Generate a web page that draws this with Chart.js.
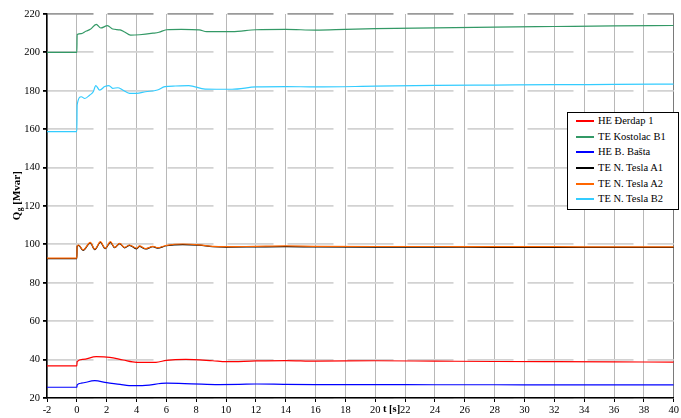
<!DOCTYPE html>
<html><head><meta charset="utf-8">
<script src="https://cdn.jsdelivr.net/npm/chart.js@4.4.1/dist/chart.umd.min.js"></script>
<style>
html,body{margin:0;padding:0;background:#fff;}
#wrap{position:relative;width:681px;height:418px;}
#legend{position:absolute;left:567px;top:112px;width:110px;height:96px;border:1px solid #000;background:#fff;font-family:"Liberation Serif","Times New Roman",serif;font-size:10.5px;color:#000;box-sizing:content-box;}
.li{height:15.7px;line-height:15.7px;white-space:nowrap;position:relative;}
.sw{position:absolute;left:8px;top:7px;width:18px;height:2px;}
.tx{position:absolute;left:30px;top:0;}
</style></head>
<body><div id="wrap"><canvas id="c" width="681" height="418"></canvas><div id="legend"></div></div>
<script>
const seriesNames = ["HE Đerdap 1","TE Kostolac B1","HE B. Bašta","TE N. Tesla A1","TE N. Tesla A2","TE N. Tesla B2"];
const seriesColors = ["#ff0000","#339966","#0000ff","#000000","#ff6600","#33ccff"];
const xTicks = [-2,0,2,4,6,8,10,12,14,16,18,20,22,24,26,28,30,32,34,36,38,40];
const yTicks = [20,40,60,80,100,120,140,160,180,200,220];

const tR = [-2,0,0.02,0.4,1.3,2.2,3.1,4,5.3,6,7.3,9.1,10,12,14,16,20,24,28,32,36,40];
const vR = [36.7,36.7,38.9,40.1,41.5,41.2,39.8,38.6,38.6,39.6,40.1,39.4,38.9,39.3,39.5,39.2,39.4,39.2,39,38.9,38.8,38.7];

const tG = [-2,0,0.02,0.3,0.6,0.9,1.3,1.6,2.05,2.4,2.9,3.2,3.6,4.2,5.1,5.5,6,7,8.2,8.7,10,10.4,12,14,16,18,20,24,28,32,36,40];
const vG = [200,200,209.3,209.8,211,212,214.6,212.7,213.9,212.2,211.7,210.6,209,209.2,210,210.5,211.8,212,211.7,210.8,210.8,210.8,211.8,212,211.6,212,212.4,212.8,213.2,213.5,213.8,214];

const tB = [-2,0,0.02,0.3,1.2,2,2.9,3.5,4.6,6,7.7,9.5,10.9,12,14,16,20,24,28,32,36,40];
const vB = [25.6,25.6,26.8,27.7,29,28,27.1,26.4,26.6,27.7,27.4,27,27.1,27.3,27.1,27,27,26.9,26.9,26.8,26.8,26.8];

const tA = [-2,0,0.02,0.12,0.42,0.9,1.2,1.58,1.9,2.25,2.53,2.87,3.2,3.53,4,4.2,4.6,5.1,5.4,6,7.1,8.2,9.1,10,12,14,16,20,24,28,32,36,40];
const vA1 = [92.6,92.6,98.9,99.5,96.9,100.8,97.3,101.1,97.8,101.1,98.3,100.4,98.2,99.5,97.7,99,97.6,98.8,98.1,99.3,99.9,99.6,98.8,98.6,98.7,98.8,98.7,98.6,98.6,98.5,98.5,98.4,98.4];
const vA2 = [92.8,92.8,99.2,99.7,97.1,101.1,97.5,101.4,98,101.4,98.5,100.6,98.5,99.7,98,99.2,97.8,99,98.3,99.5,100.2,99.8,99,98.8,99,99.2,99,98.9,98.9,98.8,98.8,98.7,98.7];

const tB2 = [-2,0,0.02,0.3,0.53,0.87,1.1,1.27,1.53,1.87,2.15,2.4,2.75,3.07,3.53,4,4.6,5.4,5.9,6.6,7.5,8.6,10.4,12,14,16,20,24,28,32,36,40];
const vB2 = [158.7,158.7,172.6,176.9,176,177.8,179.5,182.7,180.4,182.2,182.7,181.3,181.6,180.4,178.7,178.7,179.5,180.4,182.2,182.5,182.7,180.9,180.8,182,182.2,182,182.4,182.8,183,183.2,183.3,183.5];

const times = [tR,tG,tB,tA,tA,tB2];
const vals = [vR,vG,vB,vA1,vA2,vB2];
const orders = [0,0,0,0,-1,0];

const datasets = seriesNames.map((n,i)=>({
  label:n,
  data: times[i].map((t,j)=>({x:t,y:vals[i][j]})),
  borderColor: seriesColors[i],
  backgroundColor: seriesColors[i],
  borderWidth: 1.2,
  pointRadius: 0,
  cubicInterpolationMode: 'monotone',
  fill:false,
  order: orders[i]
}));

const FONT = '"Liberation Serif","Times New Roman",serif';

const titles = {
  id:'titles',
  afterDraw(chart){
    const ctx = chart.ctx;
    ctx.save();
    ctx.fillStyle = '#000';
    ctx.translate(17, 196);
    ctx.rotate(-Math.PI/2);
    ctx.textBaseline = 'middle';
    ctx.font = 'bold 11px ' + FONT;
    const w1 = ctx.measureText('Q').width;
    ctx.font = 'bold 7.5px ' + FONT;
    const w2 = ctx.measureText('g').width;
    ctx.font = 'bold 11px ' + FONT;
    const w3 = ctx.measureText(' [Mvar]').width;
    let x0 = -(w1+w2+w3)/2;
    ctx.textAlign = 'left';
    ctx.fillText('Q', x0, 0);
    ctx.font = 'bold 7.5px ' + FONT;
    ctx.fillText('g', x0+w1+0.5, 3);
    ctx.font = 'bold 11px ' + FONT;
    ctx.fillText(' [Mvar]', x0+w1+w2+0.5, 0);
    ctx.restore();
    ctx.save();
    ctx.fillStyle = '#000';
    ctx.font = 'bold 10.5px ' + FONT;
    ctx.textBaseline = 'middle';
    ctx.textAlign = 'left';
    ctx.fillText('t [s]', 383, 409);
    ctx.restore();
  }
};

const chart = new Chart(document.getElementById('c'), {
  type:'line',
  data:{datasets},
  plugins:[titles],
  options:{
    responsive:false,
    animation:false,
    devicePixelRatio:1,
    layout:{padding:{top:14,right:4,left:0,bottom:0}, autoPadding:false},
    plugins:{legend:{display:false}, tooltip:{enabled:false}},
    scales:{
      x:{
        type:'linear', min:-2, max:40,
        afterBuildTicks(s){ s.ticks = xTicks.map(v=>({value:v})); },
        afterFit(s){ s.height = 20; },
        ticks:{font:{family:FONT,size:10.5}, color:'#000', padding:2, maxRotation:0, autoSkip:false},
        grid:{color:(c)=> (c.tick && c.tick.value===40) ? '#7a7a7a' : '#b8b8b8', lineWidth:1, tickLength:4, tickColor:'#000'},
        border:{color:'#000', width:1.5}
      },
      y:{
        min:20, max:220,
        afterBuildTicks(s){ s.ticks = yTicks.map(v=>({value:v})); },
        afterFit(s){ s.width = 47; },
        ticks:{font:{family:FONT,size:10.5}, color:'#000', padding:3},
        grid:{color:(c)=> (c.tick && c.tick.value===220) ? '#9a9a9a' : '#d2d2d2', lineWidth:1.8, tickLength:4, tickColor:'#000'},
        border:{color:'#000', width:1.5, dash:[46,14]}
      }
    }
  }
});

const lg = document.getElementById('legend');
seriesNames.forEach((n,i)=>{
  const d = document.createElement('div'); d.className='li';
  const s = document.createElement('span'); s.className='sw'; s.style.background = seriesColors[i];
  const t = document.createElement('span'); t.className='tx'; t.textContent = n;
  d.appendChild(s); d.appendChild(t); lg.appendChild(d);
});
</script></body></html>
